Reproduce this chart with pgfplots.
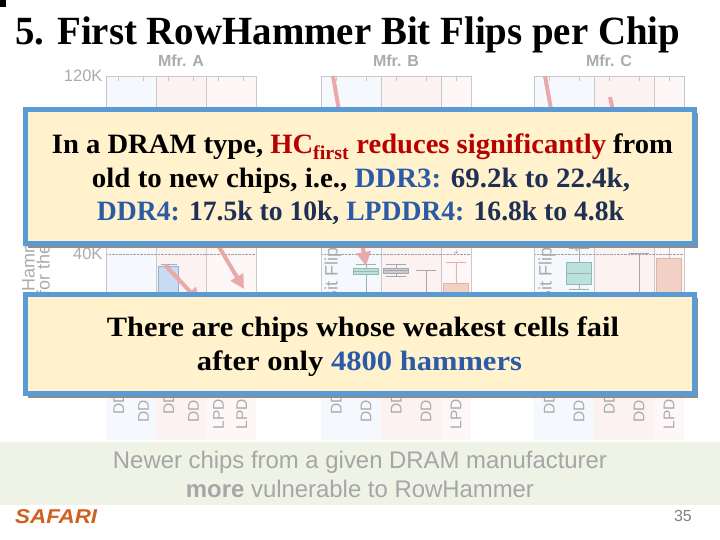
\documentclass[border=0pt]{standalone}
\usepackage{pgfplots}
\pgfplotsset{compat=1.18}
\usepgfplotslibrary{statistics}
\usetikzlibrary{arrows.meta}
\usepackage{graphicx}
\usepackage{fontspec}
\setmainfont{Liberation Serif}
\setsansfont{Liberation Sans}

\definecolor{frame}{HTML}{C9C9C9}
\definecolor{lbl}{HTML}{ABABAB}
\definecolor{bandA}{HTML}{F5F8FC}
\definecolor{bandB}{HTML}{FCF2F2}
\definecolor{bandC}{HTML}{FDF7F7}
\definecolor{arrowc}{HTML}{EAA9A9}
\definecolor{bxblue}{HTML}{C7DBF2}
\definecolor{bxblueD}{HTML}{9AAFC8}
\definecolor{bxteal}{HTML}{B9E3DA}
\definecolor{bxtealD}{HTML}{98B7B0}
\definecolor{bxgray}{HTML}{C9CBD3}
\definecolor{bxgrayD}{HTML}{A6A8B0}
\definecolor{bxsalm}{HTML}{F3D0C6}
\definecolor{bxsalmD}{HTML}{D9B5AB}
\definecolor{ovblue}{HTML}{5B9BD5}
\definecolor{ovfill}{HTML}{FFF2CC}
\definecolor{hired}{HTML}{B80000}
\definecolor{hiblue}{HTML}{2B5BA8}
\definecolor{hinavy}{HTML}{1F2F55}
\definecolor{gfill}{HTML}{EEF3E6}
\definecolor{gtext}{HTML}{A6A6A6}
\definecolor{safari}{HTML}{D0601E}

% values are in thousands of hammers
\pgfplotsset{
  chip/.style={
    scale only axis, width=150pt, height=267pt,
    anchor=south west,
    ymin=0, ymax=120,
    ytick={0,20,40,60,80,100,120},
    ytick style={draw=none},
    ymajorgrids, grid style={densely dotted, color=frame!80!black, line width=0.6pt},
    axis line style={frame, line width=0.8pt},
    xtick style={frame, line width=0.8pt}, major tick length=5pt,
    tick pos=both, ytick pos=left,
    x tick label style={rotate=90, anchor=east, text=lbl,
      font=\sffamily\fontsize{15.5}{16}\selectfont},
    y tick label style={text=lbl, font=\sffamily\fontsize{16.5}{17}\selectfont},
    title style={text=lbl, font=\sffamily\bfseries\fontsize{16}{18}\selectfont},
    boxplot/draw direction=y,
    boxplot/box extend=0.82,
  },
  bx/.style 2 args={draw=#2, fill=#1, line width=0.8pt, mark=+, mark options={#2}},
}

\begin{document}
\begin{tikzpicture}
\useasboundingbox (0,0) rectangle (720pt,540pt);
\fill[white] (0,0) rectangle (720pt,540pt);

\begin{scope}[yshift=540pt, x=1pt, y=-1pt]
  % column bands behind the three panels
  \fill[bandA] (106,76) rectangle (156,440);
  \fill[bandB] (156,76) rectangle (206,440);
  \fill[bandC] (206,76) rectangle (256,440);
  \fill[bandA] (321,76) rectangle (381,440);
  \fill[bandB] (381,76) rectangle (441,440);
  \fill[bandC] (441,76) rectangle (471,440);
  \fill[bandA] (534,76) rectangle (594,440);
  \fill[bandB] (594,76) rectangle (654,440);
  \fill[bandC] (654,76) rectangle (684,440);
  \foreach \sx in {156,206,381,441,594,654}
    \draw[frame, line width=0.8pt] (\sx,76) -- (\sx,343);
\end{scope}

% Mfr. A
\begin{axis}[chip, at={(106pt,197pt)}, title={Mfr. A},
  xmin=-0.5, xmax=5.5, xtick={0,1,2,3,4,5},
  xticklabels={DDR3-old,DDR3-new,DDR4-old,DDR4-new,LPDDR4-1x,LPDDR4-1y},
  yticklabels={0K,20K,40K,{},{},{},120K},
  boxplot/box extend=0.8]
\addplot[bx={bxblue}{bxblueD}, boxplot prepared={draw position=0, lower whisker=55, lower quartile=65, median=75, upper quartile=85, upper whisker=100}] coordinates {};
\addplot[bx={bxteal}{bxtealD}, boxplot prepared={draw position=1, lower whisker=46, lower quartile=50, median=55, upper quartile=60, upper whisker=70}] coordinates {};
\addplot[bx={bxblue}{bxblueD}, boxplot prepared={draw position=2, lower whisker=10, lower quartile=15, median=21, upper quartile=34.2, upper whisker=35.5}] coordinates {};
\addplot[bx={bxteal}{bxtealD}, boxplot prepared={draw position=3, lower whisker=10, lower quartile=13, median=16, upper quartile=19, upper whisker=22}] coordinates {};
\addplot[bx={bxsalm}{bxsalmD}, boxplot prepared={draw position=4, lower whisker=45, lower quartile=55, median=65, upper quartile=75, upper whisker=95}] coordinates {};
\addplot[bx={bxsalm}{bxsalmD}, boxplot prepared={draw position=5, lower whisker=5.5, lower quartile=9, median=12, upper quartile=16, upper whisker=21}] coordinates {};
\end{axis}

% Mfr. B
\begin{axis}[chip, at={(321pt,197pt)}, title={Mfr. B},
  xmin=-0.5, xmax=4.5, xtick={0,1,2,3,4},
  xticklabels={DDR3-old,DDR3-new,DDR4-old,DDR4-new,LPDDR4-1x},
  yticklabels={}]
\addplot[bx={bxblue}{bxblueD}, boxplot prepared={draw position=0, lower whisker=50, lower quartile=62, median=75, upper quartile=88, upper whisker=100}] coordinates {};
\addplot[bx={bxteal}{bxtealD}, boxplot prepared={draw position=1, lower whisker=20, lower quartile=31, median=32.3, upper quartile=33.7, upper whisker=35.1}] coordinates {};
\addplot[bx={bxgray}{bxgrayD}, boxplot prepared={draw position=2, lower whisker=30.1, lower quartile=31.5, median=32.6, upper quartile=33.7, upper whisker=35.1}] coordinates {};
\addplot[bx={bxgray}{bxgrayD}, boxplot prepared={draw position=3, lower whisker=10, lower quartile=13, median=16, upper quartile=20, upper whisker=32.8}] coordinates {};
\addplot[bx={bxsalm}{bxsalmD}, boxplot prepared={draw position=4, lower whisker=4.8, lower quartile=9, median=15, upper quartile=27, upper whisker=36}] table[row sep=\\, y index=0] {y\\ 40.9\\};
\end{axis}

% Mfr. C
\begin{axis}[chip, at={(534pt,197pt)}, title={Mfr. C},
  xmin=-0.5, xmax=4.5, xtick={0,1,2,3,4},
  xticklabels={DDR3-old,DDR3-new,DDR4-old,DDR4-new,LPDDR4-1x},
  yticklabels={}]
\addplot[bx={bxblue}{bxblueD}, boxplot prepared={draw position=0, lower whisker=48, lower quartile=60, median=72, upper quartile=85, upper whisker=102}] coordinates {};
\addplot[bx={bxteal}{bxtealD}, boxplot prepared={draw position=1, lower whisker=24.3, lower quartile=26.5, median=31.5, upper quartile=36.4, upper whisker=42.7}] coordinates {};
\addplot[bx={bxgray}{bxgrayD}, boxplot prepared={draw position=2, lower whisker=50, lower quartile=60, median=70, upper quartile=80, upper whisker=95}] coordinates {};
\addplot[bx={bxgray}{bxgrayD}, boxplot prepared={draw position=3, lower whisker=10, lower quartile=13, median=17, upper quartile=21, upper whisker=40.4}] coordinates {};
\addplot[bx={bxsalm}{bxsalmD}, boxplot prepared={draw position=4, lower whisker=4.8, lower quartile=10, median=20, upper quartile=38.2, upper whisker=43.1}] coordinates {};
\end{axis}

\begin{scope}[yshift=540pt, x=1pt, y=-1pt]
  % old-to-new arrows
  \draw[arrowc, line width=4pt, -{Triangle[width=14pt,length=14pt]}] (165,265) -- (200,302);
  \draw[arrowc, line width=4pt, -{Triangle[width=14pt,length=14pt]}] (196,208) -- (244,289);
  \draw[arrowc, line width=4pt, -{Triangle[width=14pt,length=14pt]}] (333,76) -- (366,266);
  \draw[arrowc, line width=4pt, -{Triangle[width=14pt,length=14pt]}] (545,76) -- (577,252);
  \draw[arrowc, line width=4pt, -{Triangle[width=14pt,length=14pt]}] (610,97) -- (640,236);

  % partial axis labels, seen only between the callouts
  \begin{scope}
    \clip (0,246) rectangle (60,293);
    \node[rotate=90, anchor=west, inner sep=0, text=lbl, font=\sffamily\fontsize{18}{18}\selectfont] at (30,292) {Hammer Count (HC)};
    \node[rotate=90, anchor=west, inner sep=0, text=lbl, font=\sffamily\fontsize{18}{18}\selectfont] at (45,296) {for the First Bit Flip};
  \end{scope}
  \node[rotate=90, anchor=east, inner sep=0, text=lbl, font=\sffamily\fontsize{18}{18}\selectfont] at (333,247) {First Bit Flip};
  \node[rotate=90, anchor=east, inner sep=0, text=lbl, font=\sffamily\fontsize{18}{18}\selectfont] at (547,247) {First Bit Flip};

  % slide title
  \fill[black] (0,0) rectangle (6,7);
  \node[anchor=base west, inner sep=0] at (15,45)
    {\resizebox{665pt}{\height}{\fontsize{40}{44}\selectfont\bfseries 5. First RowHammer Bit Flips per Chip}};

  % callout 1
  \fill[black!45] (28,113) rectangle (698,248);
  \draw[line width=5pt, draw=ovblue, fill=ovfill] (25,110) rectangle (694,244);
  \node[anchor=base, inner sep=0] at (362.5,154)
    {\resizebox{621pt}{\height}{\fontsize{28}{32}\selectfont\bfseries In a DRAM type, \textcolor{hired}{HC\textsubscript{first} reduces significantly} from}};
  \node[anchor=base, inner sep=0] at (361,188)
    {\resizebox{538pt}{\height}{\fontsize{28}{32}\selectfont\bfseries old to new chips, i.e., \textcolor{hiblue}{DDR3:} \textcolor{hinavy}{69.2k to 22.4k,}}};
  \node[anchor=base, inner sep=0] at (360.5,221)
    {\resizebox{527pt}{\height}{\fontsize{28}{32}\selectfont\bfseries \textcolor{hiblue}{DDR4:} \textcolor{hinavy}{17.5k to 10k,} \textcolor{hiblue}{LPDDR4:} \textcolor{hinavy}{16.8k to 4.8k}}};

  % callout 2
  \fill[black!45] (28,298) rectangle (698,398);
  \draw[line width=5pt, draw=ovblue, fill=ovfill] (25,295) rectangle (694,394);
  \node[anchor=base, inner sep=0] at (363,337)
    {\resizebox{512pt}{\height}{\fontsize{28}{32}\selectfont\bfseries There are chips whose weakest cells fail}};
  \node[anchor=base, inner sep=0] at (359.5,371)
    {\resizebox{325pt}{\height}{\fontsize{28}{32}\selectfont\bfseries after only \textcolor{hiblue}{4800 hammers}}};

  % faded takeaway and footer
  \fill[gfill] (0,442) rectangle (720,505);
  \node[anchor=base, inner sep=0, text=gtext] at (360,469)
    {\resizebox{494pt}{\height}{\sffamily\fontsize{24}{26}\selectfont Newer chips from a given DRAM manufacturer}};
  \node[anchor=base, inner sep=0, text=gtext] at (360,498)
    {\resizebox{348pt}{\height}{\sffamily\fontsize{24}{26}\selectfont \textbf{more} vulnerable to RowHammer}};
  \node[anchor=base west, inner sep=0, text=safari] at (15,524)
    {\resizebox{82pt}{\height}{\sffamily\bfseries\itshape\fontsize{20}{22}\selectfont SAFARI}};
  \node[anchor=base east, inner sep=0, text=gray] at (692,522)
    {\sffamily\fontsize{16}{18}\selectfont 35};
\end{scope}
\end{tikzpicture}
\end{document}
